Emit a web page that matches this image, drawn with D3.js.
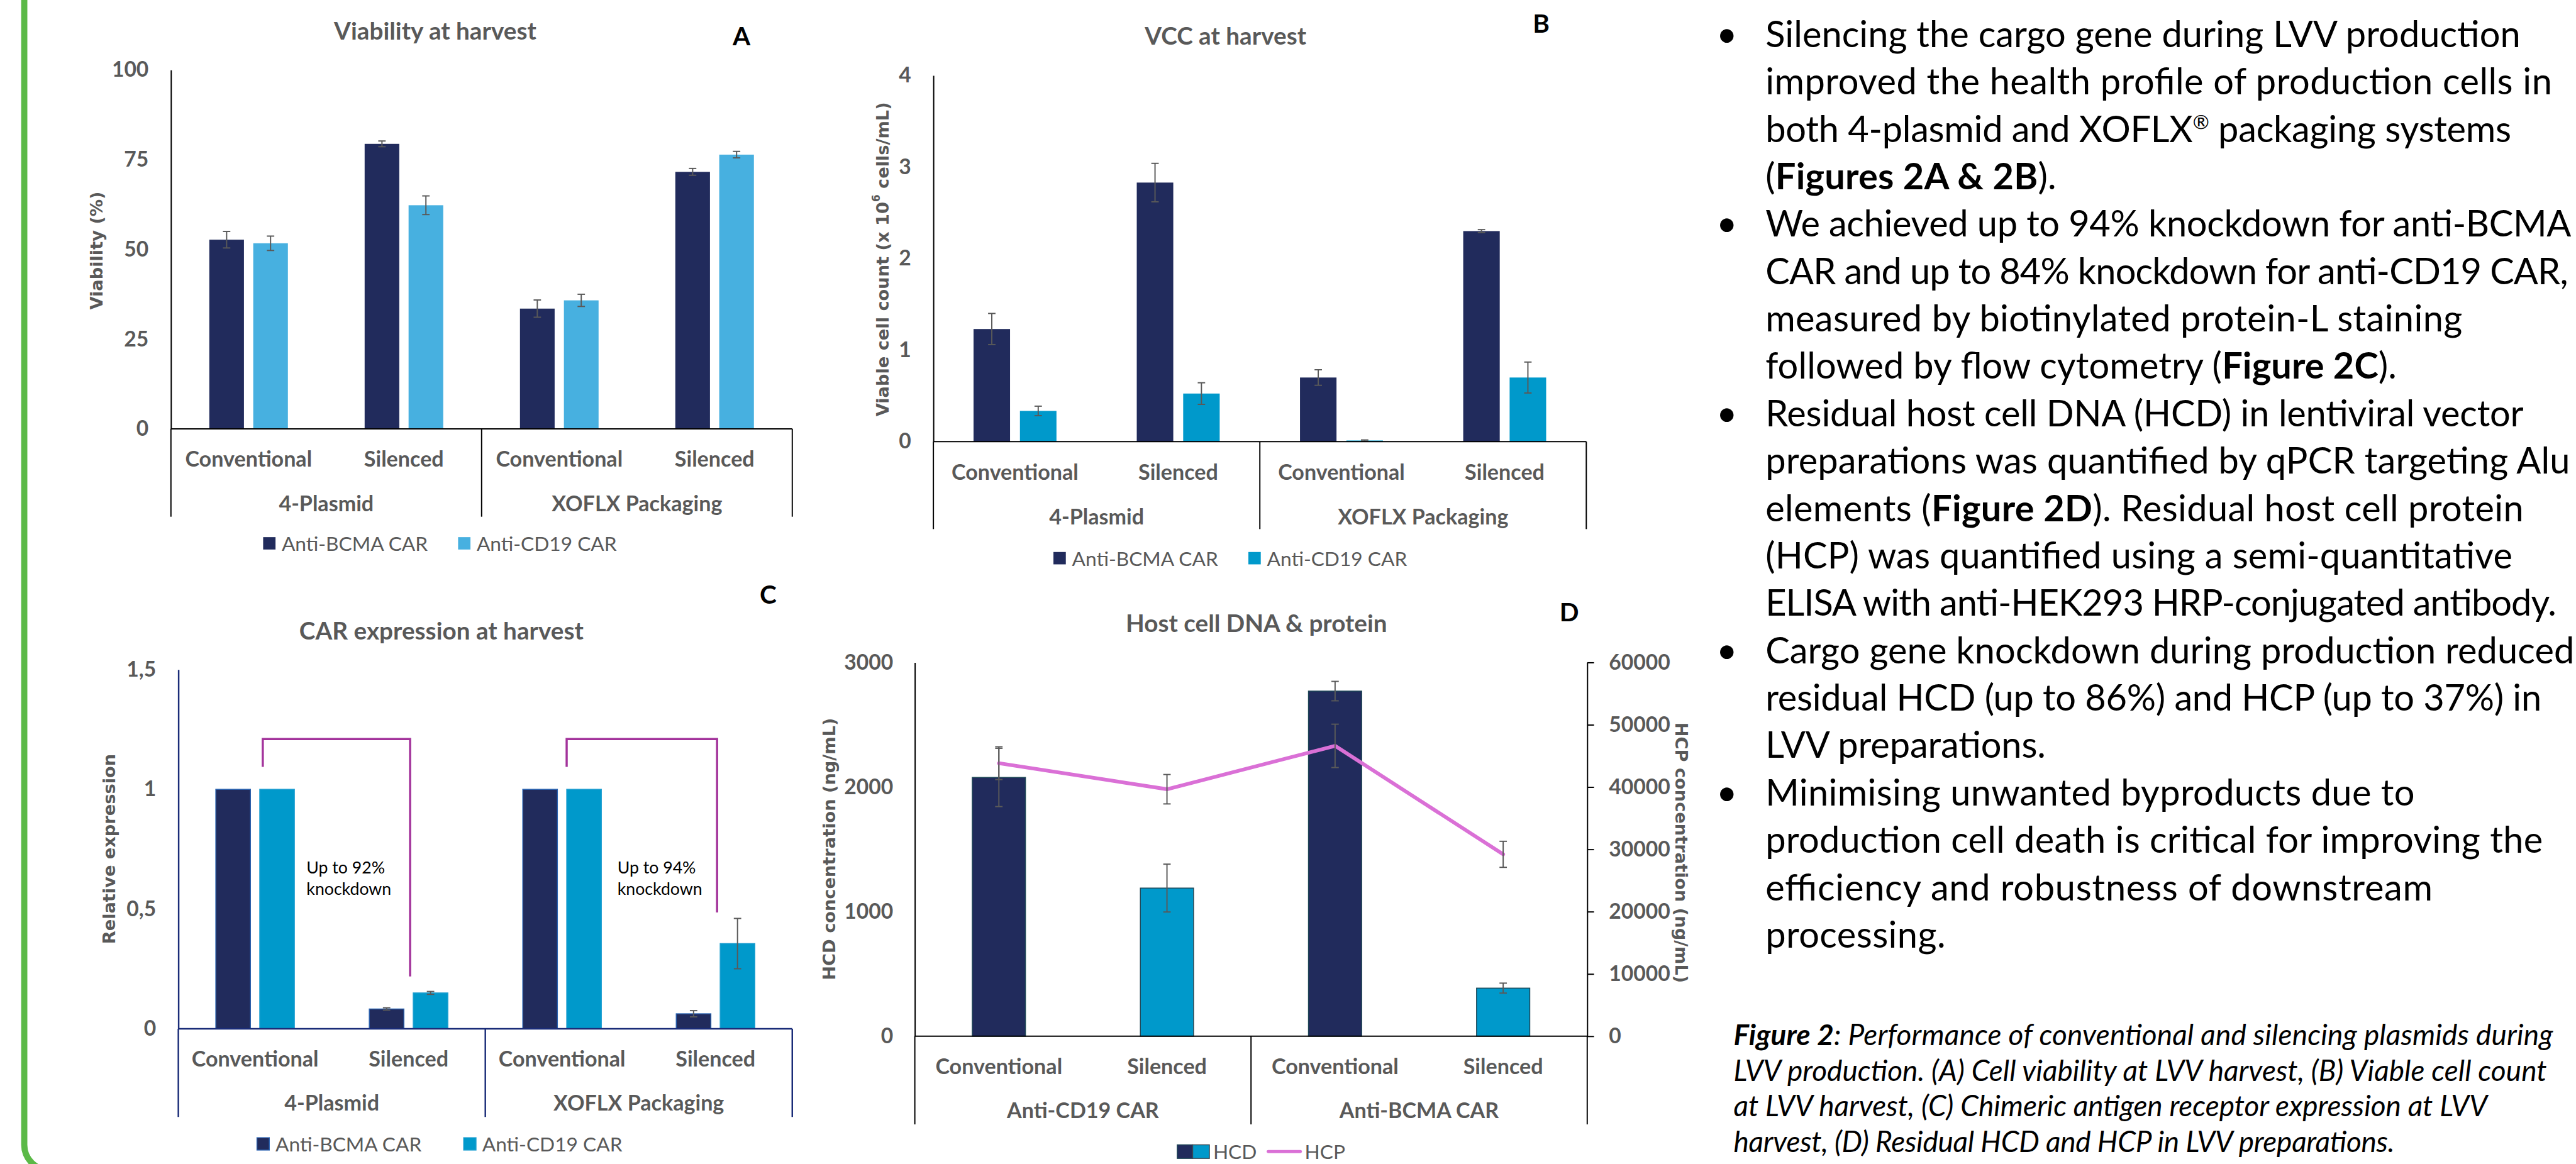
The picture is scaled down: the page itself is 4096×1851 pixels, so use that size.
<!DOCTYPE html>
<html>
<head>
<meta charset="utf-8">
<script src="https://cdn.jsdelivr.net/npm/d3@7"></script>
<style>
  body { margin: 0; background: #fff; overflow: hidden; }
  svg { display: block; }
</style>
</head>
<body>
<svg id="canvas"></svg>
<script>
"use strict"

// ---------- data ----------
const packagings = ["4-Plasmid", "XOFLX Packaging"]
const conditions = ["Conventional", "Silenced"]
const cars = ["Anti-BCMA CAR", "Anti-CD19 CAR"]

// order of every series: 4-Plasmid conv, 4-Plasmid sil, XOFLX conv, XOFLX sil
const viabBCMA = [52.7, 79.4, 33.5, 71.6]
const viabBCMAErr = [2.3, 0.8, 2.4, 0.95]
const viabCD19 = [51.7, 62.3, 35.8, 76.4]
const viabCD19Err = [2.0, 2.6, 1.7, 0.9]
const viabTicks = [0, 25, 50, 75, 100]

const vccBCMA = [1.23, 2.83, 0.70, 2.30]
const vccBCMAErr = [0.17, 0.21, 0.085, 0.016]
const vccCD19 = [0.335, 0.525, 0.012, 0.70]
const vccCD19Err = [0.052, 0.118, 0.006, 0.169]
const vccTicks = [0, 1, 2, 3, 4]

const relBCMA = [1, 0.083, 1, 0.063]
const relBCMAErr = [0, 0.005, 0, 0.013]
const relCD19 = [1, 0.150, 1, 0.356]
const relCD19Err = [0, 0.006, 0, 0.105]
const relTicks = [0, 0.5, 1, 1.5]
const knockdownText = [["Up to 92%", "knockdown"], ["Up to 94%", "knockdown"]]
const bracketTop = 1.21
const bracketLeftEnd = 1.094
const bracketRightEnd = [0.219, 0.486]

// D: Anti-CD19 conv, Anti-CD19 sil, Anti-BCMA conv, Anti-BCMA sil
const carGroups = ["Anti-CD19 CAR", "Anti-BCMA CAR"]
const hcd = [2077, 1189, 2770, 386]
const hcdErr = [234, 192, 78, 40]
const hcp = [43830, 39650, 46610, 29200]
const hcpErr = [2630, 2360, 3480, 2090]
const hcdTicks = [0, 1000, 2000, 3000]
const hcpTicks = [0, 10000, 20000, 30000, 40000, 50000, 60000]

const bulletLines = [
  "Silencing the cargo gene during LVV production",
  "improved the health profile of production cells in",
  "both 4-plasmid and XOFLX® packaging systems",
  "(**Figures 2A & 2B**).",
  "We achieved up to 94% knockdown for anti-BCMA",
  "CAR and up to 84% knockdown for anti-CD19 CAR,",
  "measured by biotinylated protein-L staining",
  "followed by flow cytometry (**Figure 2C**).",
  "Residual host cell DNA (HCD) in lentiviral vector",
  "preparations was quantified by qPCR targeting Alu",
  "elements (**Figure 2D**). Residual host cell protein",
  "(HCP) was quantified using a semi-quantitative",
  "ELISA with anti-HEK293 HRP-conjugated antibody.",
  "Cargo gene knockdown during production reduced",
  "residual HCD (up to 86%) and HCP (up to 37%) in",
  "LVV preparations.",
  "Minimising unwanted byproducts due to",
  "production cell death is critical for improving the",
  "efficiency and robustness of  downstream",
  "processing."
]
const bulletStarts = [0, 4, 8, 13, 16]
// line widths as set in the original
const bulletWidths = [1220, 1271, 1205, 470, 1302, 1297, 1126, 1020, 1225, 1300,
  1225, 1207, 1278, 1307, 1254, 453, 1049, 1256, 1078, 291]

const captionLines = [
  "**Figure 2**: Performance of conventional and silencing plasmids during",
  "LVV production. (A) Cell viability at LVV harvest, (B) Viable cell count",
  "at LVV harvest, (C) Chimeric antigen receptor expression at LVV",
  "harvest, (D) Residual HCD and HCP in LVV preparations."
]
const captionWidths = [1324, 1314, 1218, 1068]

// ---------- setup ----------
const W = 4162, H = 1881
const GRAY = "#595959", NAVY = "#212B5C", SKY = "#47B0E0", CYAN = "#0099CB"
const PURPLE = "#A3339B", ORCHID = "#DA70D6", GREEN = "#5BB947"
const SANS = "Lato, 'Open Sans', sans-serif"
const AXF = "'DejaVu Sans', Verdana, sans-serif"

const svg = d3.select("#canvas")
  .attr("width", 4096).attr("height", 1851)
  .attr("viewBox", `0 0 ${W} ${H}`)

function measure(str, weight, style, family) {
  const t = svg.append("text").attr("font-family", family || SANS).attr("font-size", 100)
    .attr("font-weight", weight).attr("font-style", style || "normal")
  richText(t, str, 100)
  const w = t.node().getComputedTextLength()
  t.remove()
  return w
}
// font size that gives a string the width it has in the original
const fitSize = (str, width, weight, style, family) => 100 * width / measure(str, weight, style, family)

const fBold = fitSize("Conventional", 205, "bold") / 37
const B = c => c * fBold
const legendSize = fitSize("Anti-BCMA CAR", 236, "normal")
const noteSize = fitSize("knockdown", 137, "normal")
const axTitleSize = fitSize("HCD concentration (ng/mL)", 424, "bold", "normal", AXF)

function label(g, txt, x, y, size, opt) {
  opt = opt || {}
  return g.append("text")
    .attr("x", x).attr("y", y)
    .attr("text-anchor", opt.anchor || "middle")
    .attr("dominant-baseline", "central")
    .attr("font-family", opt.family || SANS)
    .attr("font-weight", opt.weight || "bold")
    .attr("font-size", size)
    .attr("fill", opt.fill || GRAY)
    .text(txt)
}

function errorBar(g, cx, yTop, yBot) {
  g.append("line").attr("x1", cx).attr("x2", cx).attr("y1", yTop).attr("y2", yBot)
  g.append("line").attr("x1", cx - 6).attr("x2", cx + 6).attr("y1", yTop).attr("y2", yTop)
  g.append("line").attr("x1", cx - 6).attr("x2", cx + 6).attr("y1", yBot).attr("y2", yBot)
}

function styleAxis(a, color, sw) {
  a.select(".domain").attr("stroke", color).attr("stroke-width", sw || 2)
  a.selectAll(".tick line").attr("stroke", color).attr("stroke-width", sw || 2)
  a.selectAll(".tick text").attr("fill", GRAY).attr("font-family", SANS)
    .attr("font-weight", "bold").attr("font-size", B(36.5))
}

function categoryAxis(g, x, p, groups) {
  const bw = x.bandwidth()
  const sw = p.axisWidth || 2
  g.append("line").attr("x1", p.x0).attr("x2", p.x1).attr("y1", p.y0).attr("y2", p.y0)
    .attr("stroke", p.axisColor).attr("stroke-width", sw)
  ;[p.x0, x(2), p.x1].forEach(sx => {
    g.append("line").attr("x1", sx).attr("x2", sx).attr("y1", p.y0).attr("y2", p.sepBottom)
      .attr("stroke", p.axisColor).attr("stroke-width", sw)
  })
  d3.range(4).forEach(i => label(g, conditions[i % 2], x(i) + bw / 2, p.catY, B(37)))
  groups.forEach((gname, k) => label(g, gname, x(2 * k) + bw, p.grpY, B(37)))
}

function yTitle(g, x, y, rot) {
  return g.append("text")
    .attr("transform", `translate(${x},${y}) rotate(${rot})`)
    .attr("text-anchor", "middle").attr("dominant-baseline", "central")
    .attr("font-family", AXF).attr("font-weight", "bold")
    .attr("font-size", axTitleSize).attr("fill", GRAY)
}

// ---------- grouped bar panels (A, B, C) ----------
function barPanel(p) {
  const g = svg.append("g")
  const x = d3.scaleBand().domain(d3.range(4)).range([p.x0, p.x1])
  const y = d3.scaleLinear().domain([0, d3.max(p.ticks)]).range([p.y0, p.yTop])
  const groupW = 2 * p.barW + p.gap
  const xs = d3.scaleBand().domain([0, 1]).range([0, groupW])
    .paddingInner(p.gap / (p.barW + p.gap))
  const off = (x.bandwidth() - groupW) / 2

  p.series.forEach((s, si) => {
    g.append("g").selectAll("rect").data(s.vals).join("rect")
      .attr("x", (d, i) => x(i) + off + xs(si))
      .attr("y", d => y(d))
      .attr("width", xs.bandwidth())
      .attr("height", d => y(0) - y(d))
      .attr("fill", s.color)
      .attr("stroke", s.stroke || "none")
      .attr("stroke-width", 1.5)
  })
  const eg = g.append("g").attr("stroke", GRAY).attr("stroke-width", 2)
  p.series.forEach((s, si) => {
    s.vals.forEach((v, i) => {
      const e = s.errs[i]
      if (e > 0) errorBar(eg, x(i) + off + xs(si) + xs.bandwidth() / 2, y(v + e), y(v - e))
    })
  })

  const ax = g.append("g").attr("transform", `translate(${p.x0},0)`)
    .call(d3.axisLeft(y).tickValues(p.ticks).tickSize(0).tickSizeOuter(0).tickPadding(36).tickFormat(p.fmt))
  styleAxis(ax, p.axisColor, p.axisWidth)
  categoryAxis(g, x, p, p.groups)

  label(g, p.title, p.tx, p.ty, B(42))
  label(g, p.letter, p.lx, p.ly, B(44), { fill: "#000" })
  p.ylabel(yTitle(g, p.ylx, p.yly, -90))

  p.series.forEach((s, si) => {
    const lx = p.legendX[si]
    g.append("rect").attr("x", lx).attr("y", p.legendY - 10).attr("width", 20).attr("height", 20)
      .attr("fill", s.color).attr("stroke", s.stroke || "none").attr("stroke-width", 1.5)
    label(g, cars[si], lx + 30, p.legendY, legendSize, { anchor: "start", weight: "normal" })
  })
  return { g, x, y }
}

const fmtInt = d3.format("d")

barPanel({
  x0: 276, x1: 1280, y0: 693, yTop: 113, ticks: viabTicks, fmt: fmtInt,
  series: [
    { vals: viabBCMA, errs: viabBCMAErr, color: NAVY },
    { vals: viabCD19, errs: viabCD19Err, color: SKY }
  ],
  barW: 56, gap: 15, axisColor: "#000", groups: packagings,
  title: "Viability at harvest", tx: 703, ty: 49, letter: "A", lx: 1198, ly: 57,
  ylabel: t => t.text("Viability (%)"), ylx: 156, yly: 405,
  catY: 740, grpY: 812, sepBottom: 835, legendY: 878, legendX: [425, 740]
})

barPanel({
  x0: 1508, x1: 2563, y0: 713.6, yTop: 122, ticks: vccTicks, fmt: fmtInt,
  series: [
    { vals: vccBCMA, errs: vccBCMAErr, color: NAVY },
    { vals: vccCD19, errs: vccCD19Err, color: CYAN }
  ],
  barW: 59, gap: 16, axisColor: "#000", groups: packagings,
  title: "VCC at harvest", tx: 1980, ty: 57, letter: "B", lx: 2490, ly: 37,
  ylabel: t => {
    t.append("tspan").text("Viable cell count (x 10")
    t.append("tspan").attr("font-size", axTitleSize * 0.62).attr("dy", -axTitleSize * 0.38).text("6")
    t.append("tspan").attr("dy", axTitleSize * 0.38).text(" cells/mL)")
  },
  ylx: 1426, yly: 419,
  catY: 762, grpY: 833.5, sepBottom: 855, legendY: 902, legendX: [1702, 2017]
})

const panelC = barPanel({
  x0: 288, x1: 1280, y0: 1662.6, yTop: 1082, ticks: relTicks,
  fmt: v => String(v).replace(".", ","),
  series: [
    { vals: relBCMA, errs: relBCMAErr, color: NAVY, stroke: "#2A62B0" },
    { vals: relCD19, errs: relCD19Err, color: CYAN, stroke: "#1C9ED0" }
  ],
  barW: 56, gap: 15, axisColor: "#1A2C78", axisWidth: 2.5, groups: packagings,
  title: "CAR expression at harvest", tx: 713, ty: 1018, letter: "C", lx: 1241, ly: 960,
  ylabel: t => t.text("Relative expression"), ylx: 176, yly: 1372,
  catY: 1710, grpY: 1781, sepBottom: 1805, legendY: 1848.5, legendX: [415, 749]
})

// knockdown brackets on panel C
{
  const { g, x, y } = panelC
  const bw = x.bandwidth()
  const leftPos = [0.55, 2.53], rightPos = [1.51, 3.51], textPos = [0.835, 2.861]
  knockdownText.forEach((lines, k) => {
    const xl = x(0) + leftPos[k] * bw, xr = x(0) + rightPos[k] * bw
    g.append("path")
      .attr("d", `M${xl},${y(bracketLeftEnd)} V${y(bracketTop)} H${xr} V${y(bracketRightEnd[k])}`)
      .attr("fill", "none").attr("stroke", PURPLE).attr("stroke-width", 3.5)
    lines.forEach((ln, j) => {
      label(g, ln, x(0) + textPos[k] * bw, y(0.675 - 0.09 * j), noteSize,
        { anchor: "start", weight: "normal", fill: "#000" })
    })
  })
}

// ---------- panel D: HCD bars + HCP line ----------
{
  const p = { x0: 1478, x1: 2564.5, y0: 1674.5, yTop: 1070.5, axisColor: "#000",
    catY: 1722, grpY: 1793, sepBottom: 1817 }
  const g = svg.append("g")
  const x = d3.scaleBand().domain(d3.range(4)).range([p.x0, p.x1])
  const y = d3.scaleLinear().domain([0, d3.max(hcdTicks)]).range([p.y0, p.yTop])
  const yR = d3.scaleLinear().domain([0, d3.max(hcpTicks)]).range([p.y0, p.yTop])
  const barW = 86
  const cx = i => x(i) + x.bandwidth() / 2

  g.append("g").selectAll("rect").data(hcd).join("rect")
    .attr("x", (d, i) => cx(i) - barW / 2)
    .attr("y", d => y(d))
    .attr("width", barW)
    .attr("height", d => y(0) - y(d))
    .attr("fill", (d, i) => i % 2 ? CYAN : NAVY)
    .attr("stroke", "#1E4656").attr("stroke-width", 1.5)

  const eg = g.append("g").attr("stroke", GRAY).attr("stroke-width", 2)
  hcd.forEach((v, i) => errorBar(eg, cx(i), y(v + hcdErr[i]), y(v - hcdErr[i])))

  g.append("path").datum(hcp)
    .attr("d", d3.line().x((d, i) => cx(i)).y(d => yR(d)))
    .attr("fill", "none").attr("stroke", ORCHID).attr("stroke-width", 6)
    .attr("stroke-linejoin", "round").attr("stroke-linecap", "round")
  const eg2 = g.append("g").attr("stroke", GRAY).attr("stroke-width", 2)
  hcp.forEach((v, i) => errorBar(eg2, cx(i), yR(v + hcpErr[i]), yR(v - hcpErr[i])))

  const axL = g.append("g").attr("transform", `translate(${p.x0},0)`)
    .call(d3.axisLeft(y).tickValues(hcdTicks).tickSize(0).tickSizeOuter(0).tickPadding(35).tickFormat(fmtInt))
  styleAxis(axL, "#000")
  const axR = g.append("g").attr("transform", `translate(${p.x1},0)`)
    .call(d3.axisRight(yR).tickValues(hcpTicks).tickSize(11).tickSizeOuter(0).tickPadding(24).tickFormat(fmtInt))
  styleAxis(axR, "#000")
  categoryAxis(g, x, p, carGroups)

  label(g, "Host cell DNA & protein", 2030, 1006, B(42))
  label(g, "D", 2535.5, 988.6, B(44), { fill: "#000" })
  yTitle(g, 1340, 1372, -90).text("HCD concentration (ng/mL)")
  yTitle(g, 2717, 1378, 90).text("HCP concentration (ng/mL)")

  // legend
  g.append("rect").attr("x", 1902).attr("y", 1850).attr("width", 25).attr("height", 22)
    .attr("fill", NAVY).attr("stroke", "#1E4656").attr("stroke-width", 1.5)
  g.append("rect").attr("x", 1927).attr("y", 1850).attr("width", 27).attr("height", 22)
    .attr("fill", CYAN).attr("stroke", "#3a4a55").attr("stroke-width", 1.5)
  label(g, "HCD", 1960, 1861, legendSize, { anchor: "start", weight: "normal" })
  g.append("line").attr("x1", 2049).attr("x2", 2101).attr("y1", 1861).attr("y2", 1861)
    .attr("stroke", ORCHID).attr("stroke-width", 5).attr("stroke-linecap", "round")
  label(g, "HCP", 2108, 1861, legendSize, { anchor: "start", weight: "normal" })
}

// ---------- green frame ----------
svg.append("path")
  .attr("d", "M39,-10 V1850 A41,41 0 0 0 80,1891")
  .attr("fill", "none").attr("stroke", GREEN).attr("stroke-width", 10)

// ---------- text column ----------
// **bold** runs and a raised ® sign
function richText(t, str, size) {
  let lift = 0
  str.split("**").forEach((part, k) => {
    if (!part) return
    const bits = part.split("®")
    bits.forEach((b, j) => {
      if (b) {
        const s = t.append("tspan").attr("font-weight", k % 2 ? "bold" : null).text(b)
        if (lift) { s.attr("dy", lift); lift = 0 }
      }
      if (j < bits.length - 1) {
        lift = size * 0.35
        t.append("tspan").attr("font-size", size * 0.55).attr("dy", -lift).text("®")
      }
    })
  })
}

const tg = svg.append("g").attr("font-family", SANS).attr("fill", "#000").style("white-space", "pre")

const bulletSize = 100 * d3.sum(bulletWidths) / d3.sum(bulletLines, ln => measure(ln, "normal"))
bulletLines.forEach((ln, i) => {
  const yy = 76 + 76.6 * i
  const t = tg.append("text").attr("x", 2852.5).attr("y", yy).attr("font-size", bulletSize)
    .attr("textLength", bulletWidths[i]).attr("lengthAdjust", "spacing")
  richText(t, ln, bulletSize)
  if (bulletStarts.includes(i)) {
    tg.append("text").attr("x", 2790).attr("y", yy).attr("text-anchor", "middle")
      .attr("font-size", bulletSize).text("•")
  }
})

const capSize = 100 * d3.sum(captionWidths) / d3.sum(captionLines, ln => measure(ln, "normal", "italic"))
captionLines.forEach((ln, i) => {
  const t = tg.append("text").attr("x", 2801).attr("y", 1689 + 57.5 * i)
    .attr("font-size", capSize).attr("font-style", "italic")
    .attr("textLength", captionWidths[i]).attr("lengthAdjust", "spacing")
  richText(t, ln, capSize)
})
</script>
</body>
</html>
